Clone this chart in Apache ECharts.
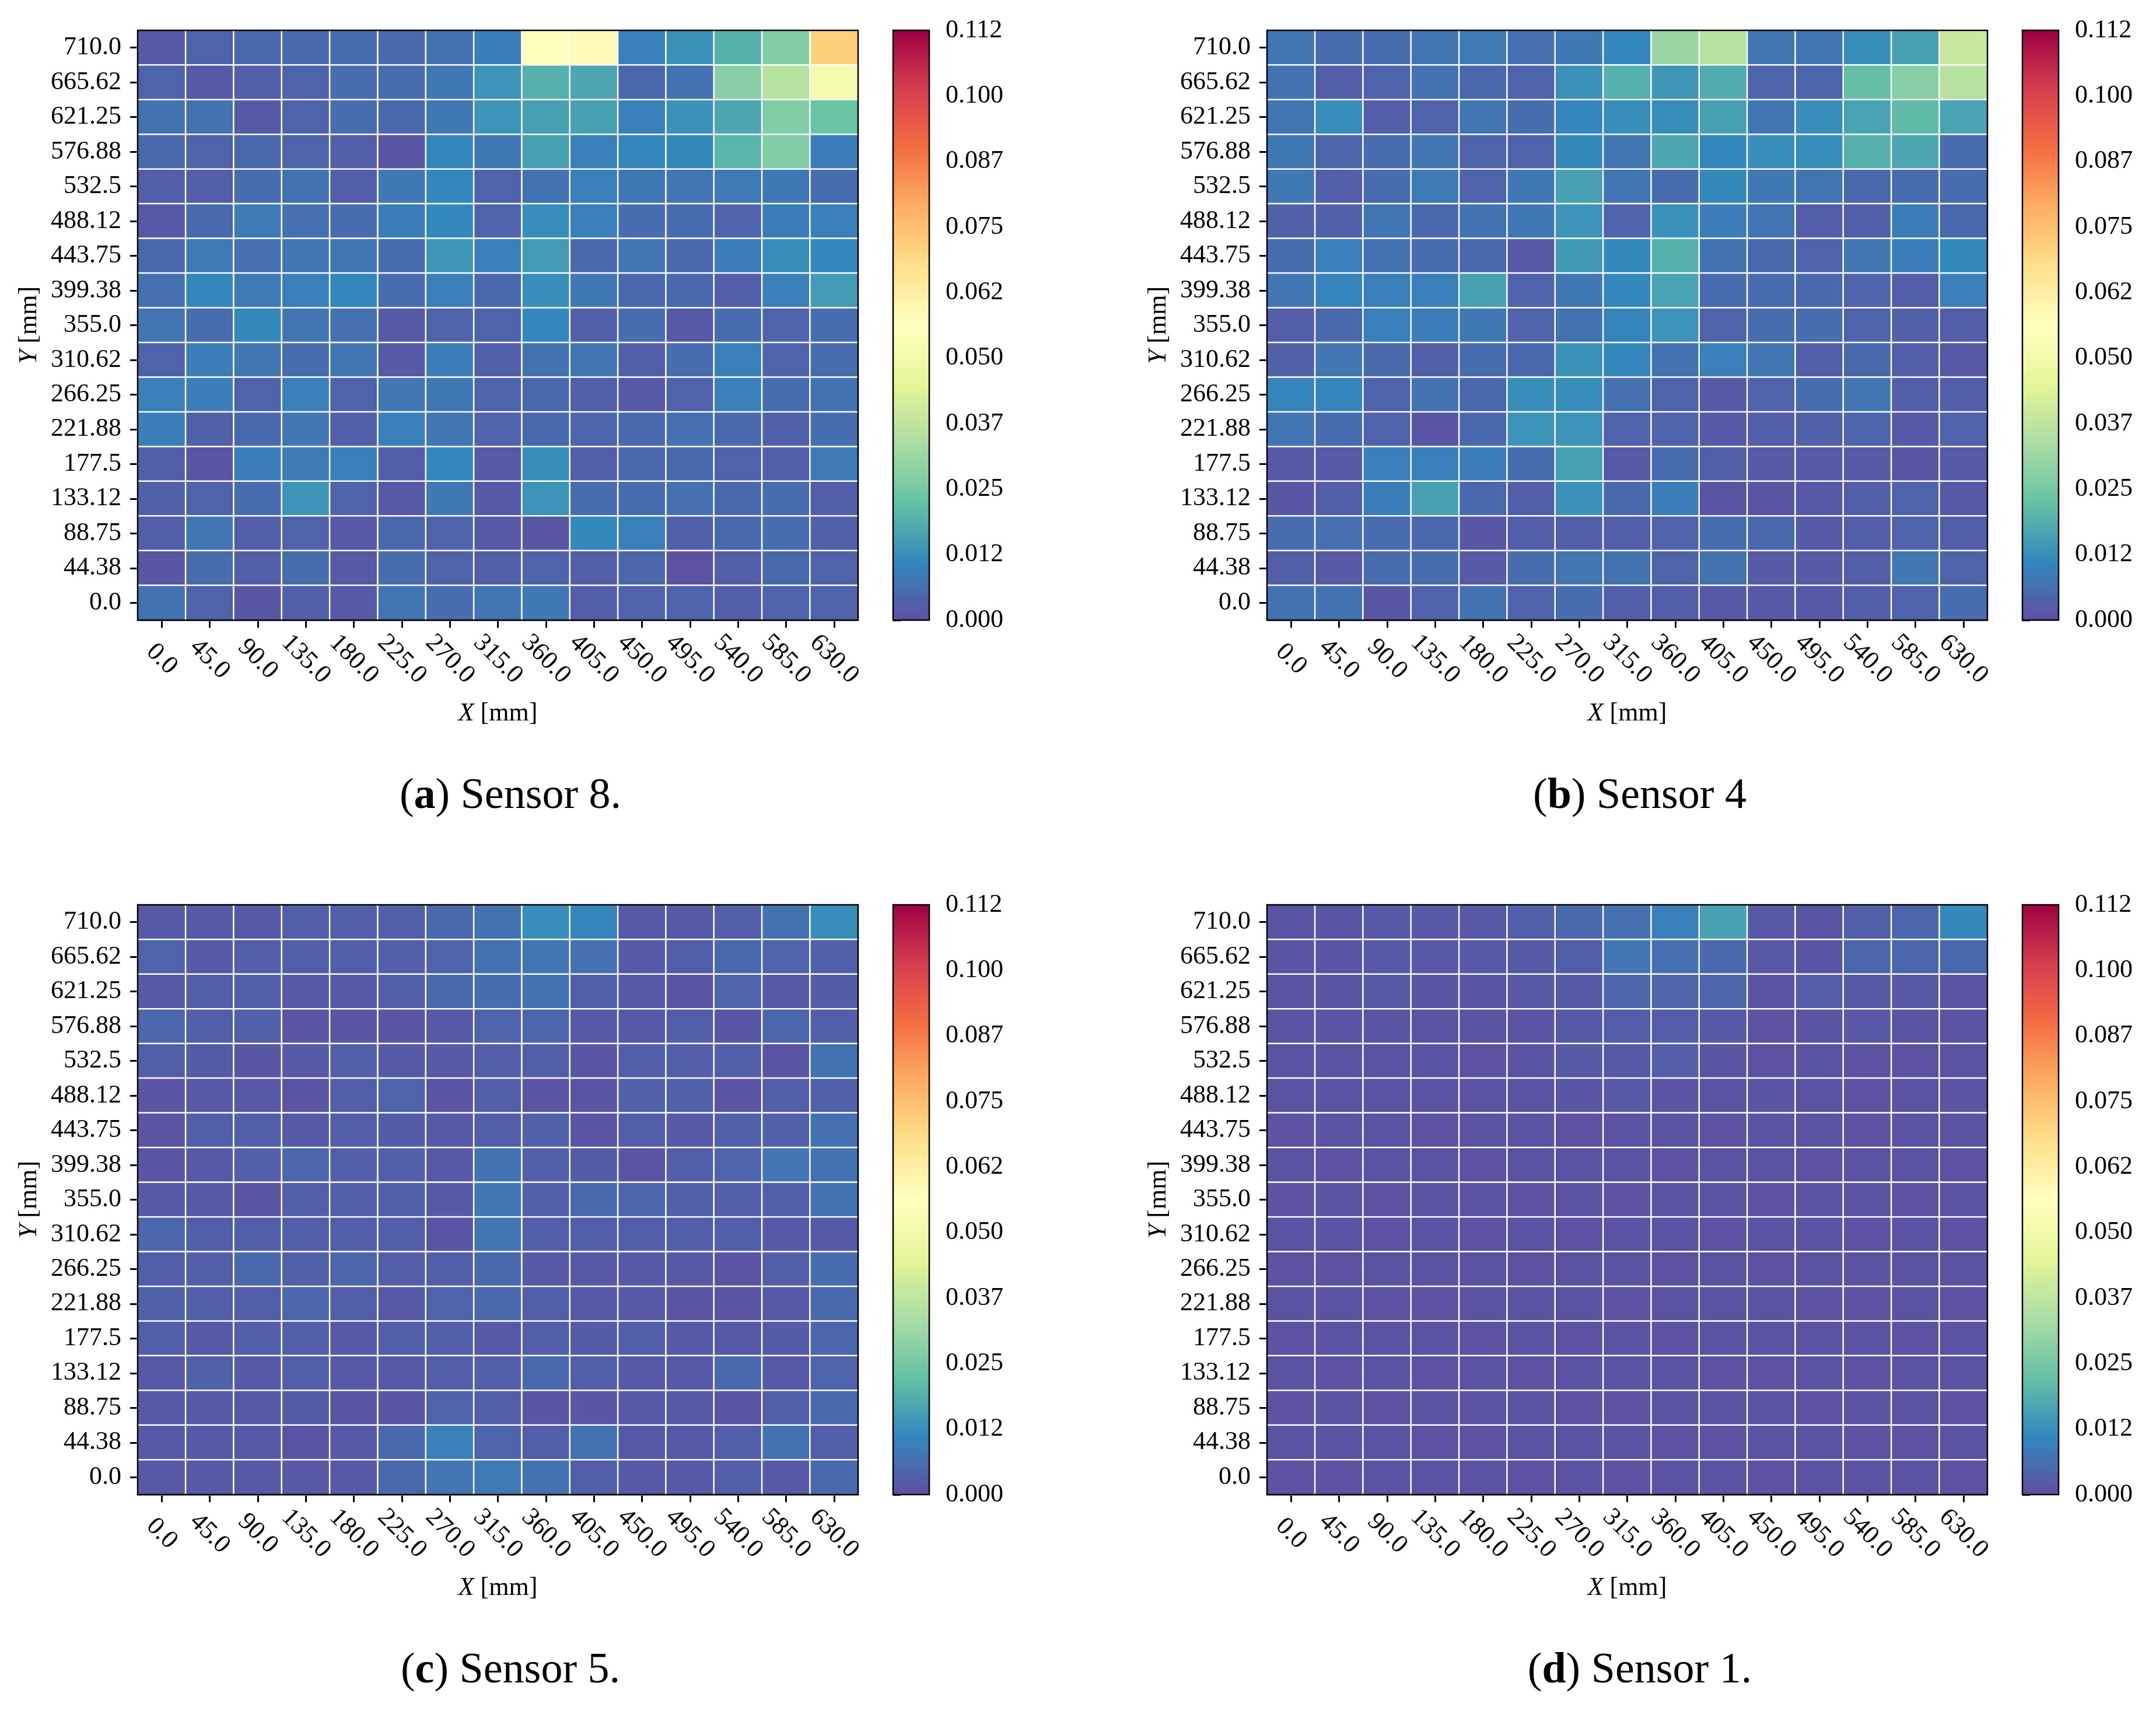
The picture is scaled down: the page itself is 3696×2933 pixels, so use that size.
<!DOCTYPE html>
<html>
<head>
<meta charset="utf-8">
<script src="https://cdn.jsdelivr.net/npm/echarts@6/dist/echarts.min.js"></script>
<style>
html,body{margin:0;padding:0;background:#fff;}
#chart{width:3696px;height:2933px;}
</style>
</head>
<body>
<div id="chart"></div>
<script>
// ---------- DATA ----------
const xLabels = ['0.0','45.0','90.0','135.0','180.0','225.0','270.0','315.0','360.0','405.0','450.0','495.0','540.0','585.0','630.0'];
// bottom -> top
const yLabels = ['0.0','44.38','88.75','133.12','177.5','221.88','266.25','310.62','355.0','399.38','443.75','488.12','532.5','576.88','621.25','665.62','710.0'];
const cbTickLabels = ['0.000','0.012','0.025','0.037','0.050','0.062','0.075','0.087','0.100','0.112'];
const cbMin = 0, cbMax = 0.1125, cbStep = 0.0125;
const captions = [['a','Sensor 8.'],['b','Sensor 4'],['c','Sensor 5.'],['d','Sensor 1.']];

// rows listed from top (710.0) to bottom (0.0), columns X = 0.0 ... 630.0
const sensor8 = [
 [0.002,0.004,0.005,0.005,0.006,0.005,0.007,0.009,0.057,0.058,0.0095,0.013,0.019,0.027,0.071],
 [0.004,0.002,0.003,0.004,0.006,0.006,0.008,0.0135,0.019,0.017,0.005,0.007,0.028,0.036,0.051],
 [0.007,0.007,0.002,0.004,0.006,0.005,0.008,0.0135,0.016,0.016,0.0095,0.013,0.017,0.027,0.023],
 [0.005,0.004,0.005,0.004,0.003,0.001,0.011,0.008,0.016,0.0095,0.011,0.0115,0.020,0.027,0.009],
 [0.003,0.003,0.006,0.007,0.003,0.008,0.011,0.004,0.007,0.0095,0.008,0.0075,0.0085,0.008,0.006],
 [0.002,0.005,0.0085,0.0065,0.006,0.009,0.011,0.004,0.0125,0.0095,0.006,0.006,0.004,0.009,0.0095],
 [0.005,0.0085,0.0065,0.0075,0.0075,0.006,0.014,0.0095,0.015,0.005,0.0075,0.005,0.009,0.0125,0.011],
 [0.0065,0.011,0.0085,0.0095,0.011,0.006,0.0095,0.005,0.0125,0.008,0.005,0.005,0.003,0.0095,0.015],
 [0.0075,0.006,0.0115,0.0075,0.0065,0.002,0.004,0.004,0.011,0.003,0.006,0.002,0.006,0.004,0.006],
 [0.004,0.009,0.0075,0.006,0.0075,0.002,0.009,0.003,0.007,0.0075,0.003,0.006,0.0095,0.004,0.006],
 [0.0095,0.009,0.004,0.0095,0.004,0.0075,0.008,0.004,0.005,0.003,0.002,0.004,0.0095,0.006,0.007],
 [0.009,0.0035,0.005,0.0075,0.003,0.0095,0.0075,0.004,0.005,0.0045,0.005,0.0065,0.005,0.0035,0.006],
 [0.003,0.001,0.009,0.0085,0.0095,0.003,0.011,0.002,0.0125,0.003,0.005,0.005,0.004,0.003,0.0085],
 [0.0035,0.004,0.006,0.0135,0.004,0.002,0.008,0.002,0.0135,0.006,0.006,0.0065,0.005,0.006,0.003],
 [0.003,0.0075,0.003,0.004,0.002,0.005,0.004,0.002,0.0015,0.0115,0.0095,0.0035,0.005,0.006,0.0035],
 [0.0015,0.006,0.003,0.006,0.002,0.006,0.004,0.003,0.004,0.003,0.0045,0.0003,0.003,0.005,0.004],
 [0.007,0.004,0.0015,0.003,0.002,0.0075,0.006,0.0075,0.008,0.003,0.004,0.004,0.003,0.004,0.004]
];
const sensor4 = [
 [0.0075,0.006,0.006,0.0075,0.0085,0.0065,0.008,0.011,0.031,0.036,0.0075,0.0075,0.0125,0.016,0.039],
 [0.007,0.003,0.004,0.007,0.005,0.004,0.013,0.019,0.014,0.018,0.004,0.0045,0.022,0.028,0.036],
 [0.0075,0.0125,0.003,0.004,0.0075,0.006,0.011,0.0125,0.0125,0.016,0.0075,0.0125,0.0165,0.021,0.0165],
 [0.008,0.0045,0.006,0.0075,0.004,0.004,0.0115,0.0075,0.017,0.011,0.0125,0.0125,0.019,0.017,0.006],
 [0.008,0.003,0.006,0.0085,0.004,0.008,0.016,0.0075,0.006,0.0115,0.008,0.0075,0.005,0.006,0.006],
 [0.0035,0.0035,0.0075,0.005,0.007,0.008,0.0135,0.004,0.013,0.009,0.0075,0.003,0.003,0.009,0.005],
 [0.006,0.0095,0.007,0.006,0.005,0.002,0.0145,0.0115,0.019,0.007,0.005,0.004,0.0075,0.009,0.0115],
 [0.0075,0.0105,0.0095,0.0095,0.016,0.004,0.008,0.011,0.0165,0.006,0.006,0.005,0.004,0.003,0.0095],
 [0.003,0.005,0.0095,0.009,0.008,0.004,0.007,0.0105,0.0135,0.004,0.006,0.006,0.004,0.0035,0.003],
 [0.0035,0.0075,0.005,0.003,0.006,0.005,0.013,0.011,0.007,0.0095,0.0075,0.003,0.005,0.003,0.002],
 [0.0105,0.0105,0.004,0.007,0.005,0.0125,0.0125,0.0065,0.004,0.002,0.004,0.006,0.0075,0.003,0.003],
 [0.0075,0.006,0.004,0.001,0.005,0.0135,0.0135,0.004,0.004,0.002,0.003,0.0035,0.0045,0.002,0.004],
 [0.002,0.002,0.0095,0.0095,0.009,0.006,0.016,0.002,0.006,0.003,0.002,0.002,0.002,0.0015,0.002],
 [0.0015,0.003,0.009,0.016,0.005,0.003,0.013,0.005,0.009,0.001,0.0015,0.002,0.003,0.004,0.002],
 [0.006,0.0065,0.006,0.005,0.0015,0.003,0.003,0.003,0.004,0.006,0.005,0.002,0.003,0.004,0.003],
 [0.003,0.002,0.006,0.006,0.002,0.006,0.0075,0.007,0.004,0.007,0.002,0.002,0.003,0.0075,0.004],
 [0.007,0.007,0.0015,0.004,0.007,0.004,0.006,0.003,0.003,0.002,0.002,0.002,0.003,0.004,0.006]
];
const sensor5 = [
 [0.002,0.002,0.002,0.003,0.003,0.003,0.005,0.007,0.0125,0.0105,0.002,0.0022,0.003,0.007,0.0125],
 [0.004,0.002,0.003,0.003,0.003,0.003,0.004,0.007,0.0075,0.0065,0.002,0.003,0.005,0.004,0.0035],
 [0.002,0.003,0.003,0.002,0.002,0.003,0.005,0.006,0.007,0.003,0.002,0.001,0.004,0.002,0.0025],
 [0.0045,0.003,0.0035,0.001,0.001,0.001,0.002,0.004,0.0045,0.002,0.002,0.003,0.0015,0.0045,0.003],
 [0.003,0.0025,0.0015,0.002,0.003,0.002,0.002,0.003,0.003,0.001,0.003,0.003,0.003,0.001,0.007],
 [0.001,0.002,0.0018,0.001,0.003,0.004,0.001,0.003,0.001,0.001,0.0035,0.0035,0.001,0.003,0.0035],
 [0.0008,0.003,0.003,0.002,0.003,0.0025,0.002,0.003,0.0035,0.001,0.003,0.002,0.0035,0.0035,0.0065],
 [0.001,0.002,0.003,0.0045,0.003,0.003,0.002,0.007,0.003,0.0025,0.0008,0.003,0.004,0.0075,0.007],
 [0.002,0.002,0.001,0.003,0.003,0.003,0.002,0.0075,0.003,0.005,0.0045,0.0035,0.003,0.003,0.007],
 [0.0045,0.003,0.003,0.003,0.003,0.003,0.001,0.0075,0.003,0.003,0.003,0.003,0.003,0.002,0.002],
 [0.003,0.003,0.005,0.0035,0.0045,0.003,0.003,0.005,0.002,0.0018,0.002,0.0018,0.0008,0.003,0.006],
 [0.0035,0.003,0.003,0.0045,0.003,0.002,0.004,0.005,0.003,0.002,0.002,0.001,0.001,0.002,0.005],
 [0.003,0.002,0.003,0.003,0.002,0.003,0.003,0.002,0.003,0.0025,0.003,0.002,0.002,0.0025,0.0045],
 [0.002,0.0035,0.002,0.003,0.002,0.002,0.003,0.003,0.005,0.003,0.002,0.002,0.005,0.002,0.004],
 [0.002,0.002,0.002,0.0025,0.001,0.0015,0.004,0.003,0.0015,0.0015,0.002,0.002,0.001,0.003,0.005],
 [0.002,0.002,0.002,0.001,0.002,0.005,0.0095,0.004,0.003,0.007,0.002,0.002,0.003,0.007,0.003],
 [0.0018,0.002,0.002,0.0018,0.002,0.005,0.0075,0.0085,0.007,0.003,0.002,0.002,0.003,0.002,0.005]
];
const sensor1 = [
 [0.001,0.001,0.002,0.0018,0.0018,0.003,0.005,0.0065,0.0095,0.016,0.0018,0.001,0.003,0.0045,0.0115],
 [0.001,0.001,0.002,0.0018,0.002,0.0022,0.003,0.0075,0.0065,0.005,0.0018,0.001,0.0045,0.0045,0.005],
 [0.0005,0.001,0.002,0.001,0.001,0.0018,0.0022,0.0045,0.004,0.0045,0.0005,0.0028,0.0022,0.0018,0.0005],
 [0.0005,0.0008,0.001,0.0005,0.001,0.0008,0.0022,0.0028,0.0028,0.0022,0.0003,0.001,0.0018,0.001,0.0005],
 [0.0005,0.0005,0.0005,0.001,0.0003,0.001,0.0022,0.0022,0.0028,0.0012,0.0003,0.001,0.0003,0.0003,0.0006],
 [0.0005,0.0005,0.0005,0.0005,0.0005,0.0005,0.0012,0.0018,0.0008,0.0006,0.001,0.0006,0.0004,0.0005,0.0008],
 [0.0004,0.0005,0.0005,0.0004,0.0005,0.0005,0.0004,0.0006,0.0005,0.0004,0.0005,0.0005,0.0004,0.0005,0.0005],
 [0.0005,0.0004,0.0005,0.0005,0.0004,0.0005,0.0005,0.0005,0.0004,0.0005,0.0005,0.0004,0.0005,0.0005,0.0004],
 [0.0004,0.0005,0.0004,0.0005,0.0005,0.0004,0.0005,0.0004,0.0005,0.0005,0.0004,0.0005,0.0005,0.0004,0.0005],
 [0.0005,0.0005,0.0004,0.0005,0.0004,0.0005,0.0004,0.0005,0.0005,0.0004,0.0005,0.0005,0.0004,0.0005,0.0004],
 [0.0004,0.0004,0.0005,0.0005,0.0005,0.0004,0.0005,0.0005,0.0004,0.0005,0.0004,0.0005,0.0005,0.0005,0.0005],
 [0.0005,0.0005,0.0004,0.0004,0.0005,0.0005,0.0005,0.0004,0.0005,0.0005,0.0005,0.0004,0.0004,0.0005,0.0004],
 [0.0004,0.0005,0.0005,0.0005,0.0004,0.0005,0.0004,0.0005,0.0004,0.0005,0.0005,0.0005,0.0005,0.0004,0.0005],
 [0.0005,0.0004,0.0005,0.0004,0.0005,0.0004,0.0005,0.0005,0.0005,0.0004,0.0004,0.0005,0.0004,0.0005,0.0005],
 [0.0004,0.0005,0.0004,0.0005,0.0005,0.0005,0.0004,0.0004,0.0005,0.0005,0.0005,0.0004,0.0005,0.0005,0.0004],
 [0.0005,0.0005,0.0005,0.0004,0.0004,0.0005,0.0005,0.0005,0.0004,0.0004,0.0005,0.0005,0.0004,0.0004,0.0005],
 [0.0004,0.0004,0.0005,0.0005,0.0005,0.0004,0.0005,0.0004,0.0005,0.0005,0.0004,0.0005,0.0005,0.0005,0.0004]
];
const sensors = [sensor8, sensor4, sensor5, sensor1];

// matplotlib Spectral_r
const spectralR = ['#5e4fa2','#3288bd','#66c2a5','#abdda4','#e6f598','#ffffbf','#fee08b','#fdae61','#f46d43','#d53e4f','#9e0142'];

// ---------- LAYOUT ----------
const FONT = '"Liberation Serif", "Times New Roman", serif';
const panelPos = [[236,52],[2172,52],[236,1551],[2172,1551]];
const PW = 1235, PH = 1011;
const CB_DX = 1295, CB_W = 62;
const capPos = [[875,1324],[2811,1324],[875,2823],[2811,2823]];

function toCells(rows){
  const out = [];
  rows.forEach((row, r) => row.forEach((v, c) => out.push([c, yLabels.length - 1 - r, v])));
  return out;
}

const grid = [], xAxis = [], yAxis = [], series = [], visualMap = [], title = [];
const black = '#000';

panelPos.forEach((p, i) => {
  const [L, T] = p;
  // heatmap grid
  grid.push({left: L, top: T, width: PW, height: PH, show: true, z: 10,
    backgroundColor: 'transparent', borderColor: black, borderWidth: 2.5, containLabel: false});
  xAxis.push({type: 'category', gridIndex: 2*i, data: xLabels,
    axisLine: {show: true, lineStyle: {color: black, width: 2.5}},
    axisTick: {show: true, alignWithLabel: true, length: 13, lineStyle: {color: black, width: 3}},
    axisLabel: {interval: 0, rotate: -45, align: 'center', verticalAlign: 'middle', margin: 67,
      fontFamily: FONT, fontSize: 44, color: black},
    splitLine: {show: false}, splitArea: {show: false},
    name: '{i|X} [mm]', nameLocation: 'middle', nameGap: 138,
    nameTextStyle: {fontFamily: FONT, fontSize: 44, color: black,
      rich: {i: {fontStyle: 'italic', fontFamily: FONT, fontSize: 44, color: black}}}
  });
  yAxis.push({type: 'category', gridIndex: 2*i, data: yLabels,
    axisLine: {show: true, lineStyle: {color: black, width: 2.5}},
    axisTick: {show: true, alignWithLabel: true, length: 13, lineStyle: {color: black, width: 3}},
    axisLabel: {interval: 0, margin: 28, fontFamily: FONT, fontSize: 44, color: black},
    splitLine: {show: false}, splitArea: {show: false},
    name: '{i|Y} [mm]', nameLocation: 'middle', nameGap: 164,
    nameTextStyle: {fontFamily: FONT, fontSize: 44, color: black,
      rich: {i: {fontStyle: 'italic', fontFamily: FONT, fontSize: 44, color: black}}}
  });
  series.push({type: 'heatmap', xAxisIndex: 2*i, yAxisIndex: 2*i, data: toCells(sensors[i]),
    itemStyle: {borderColor: '#fff', borderWidth: 2.5},
    emphasis: {disabled: true}, progressive: 0, animation: false});

  // colorbar grid (axis only)
  grid.push({left: L + CB_DX, top: T, width: CB_W, height: PH, show: true, z: 10,
    backgroundColor: 'transparent', borderColor: black, borderWidth: 2.5});
  xAxis.push({type: 'value', gridIndex: 2*i+1, show: false, min: 0, max: 1});
  yAxis.push({type: 'value', gridIndex: 2*i+1, position: 'right', min: cbMin, max: cbMax, interval: cbStep,
    axisLine: {show: true, lineStyle: {color: black, width: 2.5}},
    axisTick: {show: true, inside: false, length: 13, lineStyle: {color: black, width: 3}},
    axisLabel: {margin: 28, fontFamily: FONT, fontSize: 44, color: black,
      formatter: v => cbTickLabels[Math.round(v / cbStep)]},
    splitLine: {show: false}
  });
  visualMap.push({type: 'continuous', seriesIndex: i, min: cbMin, max: cbMax,
    left: L + CB_DX, top: T, itemWidth: CB_W, itemHeight: PH, padding: 0,
    calculable: false, hoverLink: false, text: null, showLabel: false,
    inRange: {color: spectralR}});

  title.push({text: '({b|' + captions[i][0] + '}) ' + captions[i][1],
    left: capPos[i][0], top: capPos[i][1], textAlign: 'center', padding: 0,
    textStyle: {fontFamily: FONT, fontSize: 74, fontWeight: 'normal', color: black, lineHeight: 84,
      rich: {b: {fontFamily: FONT, fontSize: 74, fontWeight: 'bold', color: black, lineHeight: 84}}}});
});

const chart = echarts.init(document.getElementById('chart'), null, {renderer: 'canvas'});
chart.setOption({animation: false, backgroundColor: '#fff', title, grid, xAxis, yAxis, visualMap, series});
</script>
</body>
</html>
